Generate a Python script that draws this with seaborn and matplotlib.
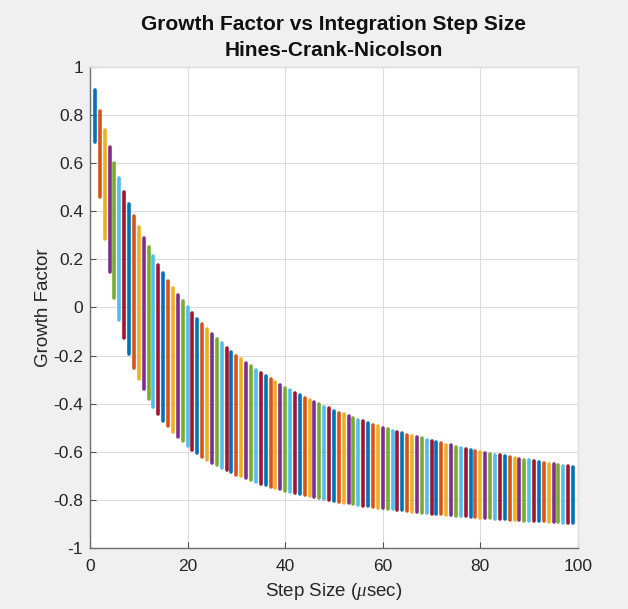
import matplotlib
matplotlib.use("Agg")
import matplotlib.pyplot as plt
import seaborn as sns
import pandas as pd

# Step sizes (microseconds) and the growth-factor range at each step
step_size = list(range(1, 100))

gf_upper = [
    0.905, 0.818, 0.739, 0.667, 0.600, 0.538, 0.481, 0.429, 0.379, 0.333,
    0.290, 0.250, 0.212, 0.176, 0.143, 0.111, 0.081, 0.053, 0.026, 0.000,
    -0.024, -0.048, -0.070, -0.091, -0.111, -0.130, -0.149, -0.167, -0.184, -0.200,
    -0.216, -0.231, -0.245, -0.259, -0.273, -0.286, -0.298, -0.310, -0.322, -0.333,
    -0.344, -0.355, -0.365, -0.375, -0.385, -0.394, -0.403, -0.412, -0.420, -0.429,
    -0.437, -0.444, -0.452, -0.459, -0.467, -0.474, -0.481, -0.487, -0.494, -0.500,
    -0.506, -0.512, -0.518, -0.524, -0.529, -0.535, -0.540, -0.545, -0.551, -0.556,
    -0.560, -0.565, -0.570, -0.574, -0.579, -0.583, -0.588, -0.592, -0.596, -0.600,
    -0.604, -0.608, -0.612, -0.615, -0.619, -0.623, -0.626, -0.630, -0.633, -0.636,
    -0.640, -0.643, -0.646, -0.649, -0.652, -0.655, -0.658, -0.661, -0.664,
]

gf_lower = [
    0.688, 0.459, 0.286, 0.149, 0.038, -0.053, -0.129, -0.194, -0.250, -0.299,
    -0.341, -0.379, -0.413, -0.443, -0.471, -0.495, -0.518, -0.538, -0.557, -0.575,
    -0.591, -0.606, -0.620, -0.633, -0.645, -0.656, -0.667, -0.677, -0.686, -0.695,
    -0.703, -0.711, -0.719, -0.726, -0.733, -0.739, -0.745, -0.751, -0.757, -0.762,
    -0.767, -0.772, -0.777, -0.781, -0.786, -0.790, -0.794, -0.798, -0.801, -0.805,
    -0.809, -0.812, -0.815, -0.818, -0.821, -0.824, -0.827, -0.830, -0.832, -0.835,
    -0.837, -0.840, -0.842, -0.844, -0.847, -0.849, -0.851, -0.853, -0.855, -0.857,
    -0.859, -0.860, -0.862, -0.864, -0.866, -0.867, -0.869, -0.871, -0.872, -0.874,
    -0.875, -0.876, -0.878, -0.879, -0.881, -0.882, -0.883, -0.884, -0.886, -0.887,
    -0.888, -0.889, -0.890, -0.891, -0.892, -0.893, -0.895, -0.896, -0.897,
]

x_ticks = [0, 20, 40, 60, 80, 100]
y_ticks = [-1, -0.8, -0.6, -0.4, -0.2, 0, 0.2, 0.4, 0.6, 0.8, 1]
y_tick_labels = ["-1", "-0.8", "-0.6", "-0.4", "-0.2", "0", "0.2", "0.4", "0.6", "0.8", "1"]

line_colors = ["#0072BD", "#D95319", "#EDB120", "#7E2F8E",
               "#77AC30", "#4DBEEE", "#A2142F"]

# Long-form table: two points (upper & lower) per step size
rows = []
for s, hi, lo in zip(step_size, gf_upper, gf_lower):
    rows.append({"step": s, "gf": hi, "seg": s})
    rows.append({"step": s, "gf": lo, "seg": s})
df = pd.DataFrame(rows)
palette = {s: line_colors[i % len(line_colors)] for i, s in enumerate(step_size)}

sns.set_theme(style="white")
plt.rcParams["font.family"] = ["Liberation Sans", "DejaVu Sans"]
plt.rcParams["mathtext.fontset"] = "custom"
plt.rcParams["mathtext.it"] = "Liberation Serif:italic"
plt.rcParams["mathtext.rm"] = "Liberation Sans"

bg = "#f0f0f0"
fig = plt.figure(figsize=(6.28, 6.09), dpi=100, facecolor=bg)
ax = fig.add_axes([0.1433, 0.1003, 0.7770, 0.7898])
ax.set_facecolor("white")

sns.lineplot(data=df, x="step", y="gf", hue="seg", palette=palette,
             estimator=None, sort=False, legend=False, linewidth=2.6,
             solid_capstyle="round", ax=ax)

ax.set_xlim(0, 100)
ax.set_ylim(-1, 1)
ax.set_xticks(x_ticks)
ax.set_xticklabels([str(t) for t in x_ticks])
ax.set_yticks(y_ticks)
ax.set_yticklabels(y_tick_labels)

ax.grid(True, color="#dcdcdc", linewidth=0.8)
ax.set_axisbelow(True)

for side in ["left", "bottom"]:
    ax.spines[side].set_color("#6e6e6e")
    ax.spines[side].set_linewidth(1.0)
for side in ["top", "right"]:
    ax.spines[side].set_color("#dcdcdc")
    ax.spines[side].set_linewidth(1.0)

ax.tick_params(axis="both", direction="in", length=4, width=0.8,
               color="#4d4d4d", labelsize=12.5, labelcolor="#262626")
ax.tick_params(axis="x", pad=8)
ax.tick_params(axis="y", pad=5)
ax.tick_params(axis="both", which="both", top=False, right=False,
               left=True, bottom=True)

ax.set_xlabel("Step Size ($\\mu$sec)", fontsize=13.5, color="#262626", labelpad=5)
ax.set_ylabel("Growth Factor", fontsize=13.5, color="#262626", labelpad=1)
ax.set_title("Growth Factor vs Integration Step Size\nHines-Crank-Nicolson",
             fontsize=15, fontweight="bold", color="#111111", pad=8,
             linespacing=1.45)

fig.savefig("out.png", dpi=100, facecolor=bg)
